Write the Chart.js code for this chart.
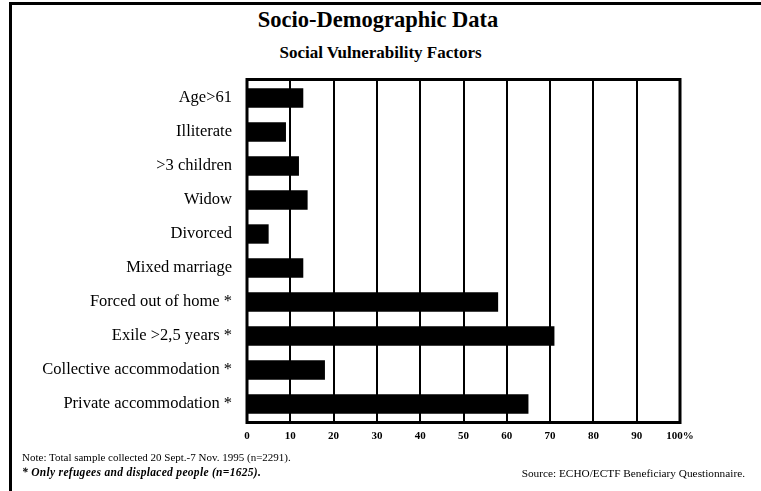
<!DOCTYPE html>
<html>
<head>
<meta charset="utf-8">
<script src="https://cdn.jsdelivr.net/npm/chart.js@4.4.1/dist/chart.umd.min.js"></script>
<style>
  html, body { margin:0; padding:0; background:#fff; }
  #wrap { position:relative; width:761px; height:491px; overflow:hidden; background:#fff; font-family:"Liberation Serif","DejaVu Serif",serif; color:#000; }
  #frameTop { position:absolute; left:9px; top:2px; width:752px; height:3px; background:#000; }
  #frameLeft { position:absolute; left:9px; top:2px; width:3px; height:489px; background:#000; }
  #title { position:absolute; left:0; width:756px; top:7px; text-align:center; font-weight:bold; font-size:22.5px; }
  #subtitle { position:absolute; left:0; width:761px; top:43px; text-align:center; font-weight:bold; font-size:17px; }
  .note { position:absolute; font-size:11px; white-space:nowrap; }
  #c { position:absolute; left:0; top:0; }
</style>
</head>
<body>
<div id="wrap">
  <div id="frameTop"></div>
  <div id="frameLeft"></div>
  <div id="title">Socio-Demographic Data</div>
  <div id="subtitle">Social Vulnerability Factors</div>
  <canvas id="c" width="761" height="491"></canvas>
  <div class="note" style="left:22px; top:451px;">Note: Total sample collected 20 Sept.-7 Nov. 1995 (n=2291).</div>
  <div class="note" style="left:22px; top:466px; font-style:italic; font-weight:bold; font-size:11.5px; letter-spacing:0.3px;">* Only refugees and displaced people (n=1625).</div>
  <div class="note" style="right:16px; top:467px; font-size:11.3px;">Source: ECHO/ECTF Beneficiary Questionnaire.</div>
</div>
<script>
const categories = ["Age>61", "Illiterate", ">3 children", "Widow", "Divorced", "Mixed marriage", "Forced out of home *", "Exile >2,5 years *", "Collective accommodation *", "Private accommodation *"];
const values = [13, 9, 12, 14, 5, 13, 58, 71, 18, 65];
const tickValues = [0, 10, 20, 30, 40, 50, 60, 70, 80, 90, 100];
const tickLabels = ["0", "10", "20", "30", "40", "50", "60", "70", "80", "90", "100%"];

const frameBorder = {
  id: 'frameBorder',
  afterDraw(chart) {
    const {ctx, chartArea: a} = chart;
    ctx.save();
    ctx.strokeStyle = '#000';
    ctx.lineWidth = 3;
    ctx.strokeRect(a.left, a.top - 1.5, a.right - a.left, a.bottom - a.top + 3);
    ctx.restore();
  }
};

new Chart(document.getElementById('c'), {
  type: 'bar',
  data: {
    labels: categories,
    datasets: [{
      data: values,
      backgroundColor: '#000',
      borderWidth: 0,
      categoryPercentage: 1,
      barPercentage: 0.57
    }]
  },
  options: {
    indexAxis: 'y',
    responsive: false,
    animation: false,
    devicePixelRatio: 1,
    layout: { padding: { left: 0, right: 81, top: 81, bottom: 40 } },
    plugins: { legend: { display: false }, tooltip: { enabled: false }, title: { display: false } },
    scales: {
      x: {
        min: 0, max: 100,
        afterBuildTicks(scale) { scale.ticks = tickValues.map(v => ({ value: v })); },
        afterFit(scale) { scale.height = 30; },
        grid: { color: '#000', lineWidth: 2, drawTicks: false },
        border: { display: false },
        ticks: {
          padding: 9,
          color: '#000',
          font: { family: 'Liberation Serif', size: 11, weight: 'bold' },
          maxRotation: 0,
          callback: (v, i) => tickLabels[i]
        }
      },
      y: {
        afterFit(scale) { scale.width = 247; },
        grid: { display: false, drawTicks: false },
        border: { display: false },
        ticks: {
          padding: 15,
          color: '#000',
          font: { family: 'Liberation Serif', size: 16.5 }
        }
      }
    }
  },
  plugins: [frameBorder]
});
</script>
</body>
</html>
